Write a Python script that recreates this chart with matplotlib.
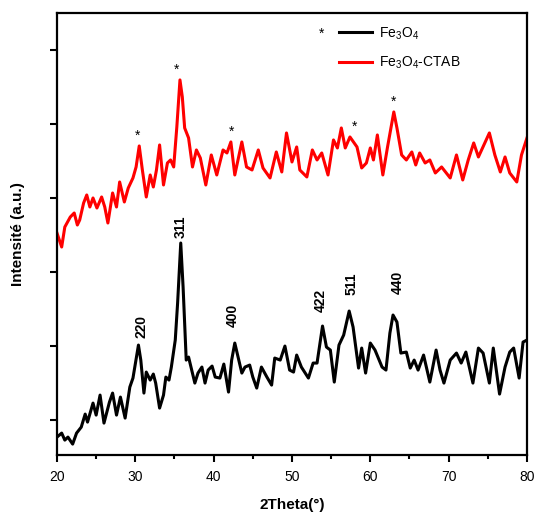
import numpy as np
import matplotlib
matplotlib.use("Agg")
import matplotlib.pyplot as plt
from matplotlib.ticker import MultipleLocator

plt.rcParams['font.family'] = ['Liberation Sans', 'DejaVu Sans']
plt.rcParams['mathtext.default'] = 'regular'

# Fe3O4 diffractogram (2theta in degrees, intensity in a.u.)
theta_fe3o4 = [20.0, 20.6, 21.0, 21.4, 22.0, 22.5, 23.1, 23.6, 23.9, 24.6, 25.0, 25.5,
               26.0, 26.7, 27.1, 27.6, 28.1, 28.7, 29.3, 29.7, 30.4, 30.7, 31.1, 31.4,
               31.9, 32.3, 32.6, 33.1, 33.6, 33.9, 34.3, 34.6, 35.1, 35.4, 35.8, 36.1,
               36.5, 36.8, 37.2, 37.6, 38.0, 38.5, 38.9, 39.3, 39.8, 40.2, 40.8, 41.3,
               41.9, 42.3, 42.7, 43.3, 43.6, 44.0, 44.6, 45.0, 45.5, 46.1, 46.8, 47.4,
               47.8, 48.5, 49.1, 49.7, 50.2, 50.6, 51.2, 52.1, 52.7, 53.2, 53.9, 54.4,
               54.9, 55.4, 56.0, 56.6, 57.3, 57.8, 58.5, 58.9, 59.4, 60.0, 60.6, 61.5,
               62.0, 62.5, 62.9, 63.4, 63.9, 64.6, 65.1, 65.6, 66.1, 66.8, 67.6, 68.4,
               68.9, 69.4, 70.2, 71.0, 71.6, 72.2, 73.1, 73.8, 74.4, 75.2, 75.7, 76.5,
               77.2, 77.8, 78.3, 79.0, 79.5, 80.0]
int_fe3o4 = [18, 22, 15, 18, 11, 22, 28, 41, 33, 52, 40, 60,
             32, 53, 62, 40, 58, 37, 68, 77, 110, 95, 62, 83,
             75, 81, 72, 47, 60, 78, 75, 88, 115, 152, 212, 168,
             95, 98, 85, 72, 82, 88, 72, 85, 89, 78, 77, 91,
             63, 95, 112, 92, 82, 88, 90, 78, 67, 88, 78, 70,
             97, 95, 109, 85, 83, 100, 88, 77, 92, 92, 129, 108,
             105, 73, 110, 120, 144, 128, 87, 107, 82, 112, 105, 88,
             85, 122, 140, 133, 102, 103, 87, 95, 85, 100, 73, 105,
             85, 72, 95, 102, 92, 103, 72, 107, 102, 72, 107, 61,
             88, 103, 107, 77, 113, 115]

# Fe3O4-CTAB diffractogram
theta_ctab = [20.0, 20.6, 21.0, 21.7, 22.2, 22.6, 22.9, 23.4, 23.8, 24.2, 24.6, 25.1,
              25.7, 26.1, 26.5, 27.1, 27.6, 28.0, 28.6, 29.1, 29.7, 30.1, 30.5, 30.9,
              31.4, 31.9, 32.3, 32.7, 33.1, 33.6, 34.1, 34.5, 34.9, 35.3, 35.7, 36.0,
              36.3, 36.8, 37.3, 37.8, 38.3, 39.0, 39.7, 40.4, 41.2, 41.7, 42.2, 42.7,
              43.6, 44.2, 44.9, 45.7, 46.3, 47.2, 48.0, 48.7, 49.3, 50.0, 50.6, 51.0,
              51.9, 52.6, 53.2, 53.8, 54.6, 55.3, 55.8, 56.3, 56.8, 57.4, 58.3, 58.9,
              59.5, 60.0, 60.4, 60.9, 61.6, 62.2, 63.0, 63.4, 64.0, 64.6, 65.3, 65.8,
              66.3, 67.0, 67.6, 68.3, 69.1, 70.2, 71.0, 71.8, 72.5, 73.2, 73.8, 74.5,
              75.2, 75.9, 76.6, 77.2, 77.8, 78.7, 79.3, 80.0]
int_ctab = [222, 208, 228, 238, 242, 230, 235, 252, 260, 248, 257, 247,
            258, 248, 232, 262, 248, 273, 253, 267, 277, 288, 309, 285,
            258, 280, 268, 285, 310, 270, 292, 295, 288, 328, 375, 358,
            327, 317, 288, 305, 297, 270, 300, 280, 305, 302, 313, 280,
            313, 288, 285, 305, 287, 277, 303, 283, 322, 293, 308, 285,
            278, 305, 295, 302, 280, 315, 307, 327, 307, 318, 308, 287,
            292, 307, 295, 320, 280, 308, 343, 327, 300, 295, 303, 290,
            302, 292, 295, 282, 288, 277, 300, 275, 295, 312, 298, 310,
            322, 300, 283, 298, 282, 273, 300, 317]

# (hkl) reflections of the spinel phase: label, 2theta, text base height
hkl_labels = ['220', '311', '400', '422', '511', '440']
hkl_theta = [30.85, 35.85, 42.45, 53.7, 57.65, 63.5]
hkl_height = [117, 217, 128, 143, 160, 161]

# stars marking the magnetite peaks on the CTAB curve
star_theta = [30.3, 35.2, 42.3, 58.0, 62.9]
star_height = [309, 375, 313, 318, 343]

fig = plt.figure(figsize=(5.35, 5.16), dpi=100)
ax = fig.add_axes([0.1065, 0.118, 0.8785, 0.857])

ax.plot(theta_fe3o4, int_fe3o4, color='black', lw=2.2, label='Fe$_3$O$_4$')
ax.plot(theta_ctab, int_ctab, color='red', lw=2.2, label='Fe$_3$O$_4$-CTAB')

for lab, t, h in zip(hkl_labels, hkl_theta, hkl_height):
    ax.text(t, h, lab, rotation=90, ha='center', va='bottom',
            fontsize=10, fontweight='bold')

for t, h in zip(star_theta, star_height):
    ax.text(t, h + 3, '*', ha='center', va='bottom', fontsize=10)

ax.set_xlim(20, 80)
ax.set_ylim(0, 442)
ax.xaxis.set_major_locator(MultipleLocator(10))
ax.xaxis.set_minor_locator(MultipleLocator(5))
ax.set_yticks([35, 109, 183, 257, 331, 405])
ax.set_yticklabels([])
ax.tick_params(axis='both', which='major', direction='out', length=5, width=1.5,
               labelsize=10, pad=6)
ax.tick_params(axis='x', which='minor', direction='out', length=3, width=1.5)
for s in ax.spines.values():
    s.set_linewidth(1.6)

ax.set_xlabel('2Theta(°)', fontsize=11, fontweight='bold', labelpad=10)
ax.set_ylabel('Intensité (a.u.)', fontsize=11, fontweight='bold', labelpad=12)

leg = ax.legend(loc='upper left', bbox_to_anchor=(0.6, 0.972), frameon=False,
                fontsize=10, handlelength=2.4, handletextpad=0.5,
                labelspacing=0.95, borderpad=0, borderaxespad=0)
ax.text(53.8, 421, '*', ha='center', va='center', fontsize=10)

fig.savefig('out.png', dpi=100)
